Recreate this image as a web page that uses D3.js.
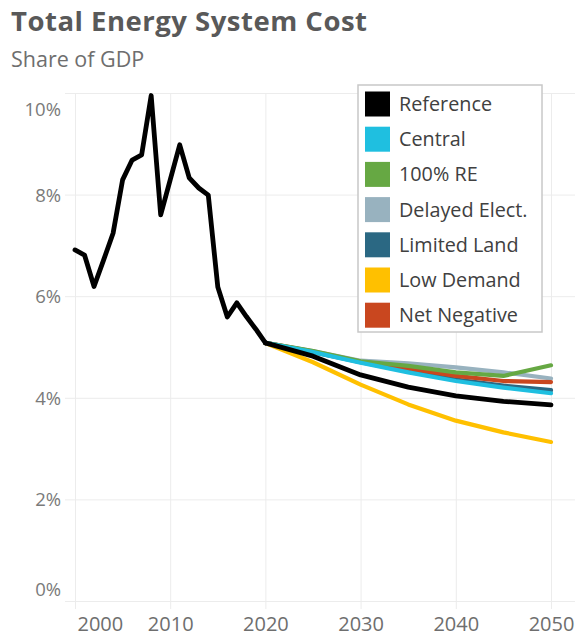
<!DOCTYPE html>
<html>
<head>
<meta charset="utf-8">
<script src="https://cdn.jsdelivr.net/npm/d3@7"></script>
<style>
  html, body { margin: 0; padding: 0; background: #fff; }
  svg { display: block; }
  text { font-family: "Open Sans", "Noto Sans", sans-serif; }
</style>
</head>
<body>
<svg id="chart" width="575" height="637"></svg>
<script>
// ---- data ----
const histYears = [2000,2001,2002,2003,2004,2005,2006,2007,2008,2009,2010,2011,2012,2013,2014,2015,2016,2017,2018,2019,2020];
const histValues = [6.91,6.81,6.19,6.71,7.24,8.29,8.68,8.78,9.95,7.60,8.29,8.98,8.33,8.13,7.99,6.18,5.59,5.87,5.60,5.35,5.08];

const projYears = [2020,2025,2030,2035,2040,2045,2050];
const scenarioNames = ["Reference","Central","100% RE","Delayed Elect.","Limited Land","Low Demand","Net Negative"];
const scenarioColors = ["#000000","#1fbfe0","#66a843","#98b2bf","#2b6883","#ffc000","#c9471f"];
const refProj      = [5.08,4.82,4.45,4.21,4.04,3.93,3.86];
const centralProj  = [5.08,4.90,4.69,4.50,4.33,4.20,4.09];
const re100Proj    = [5.08,4.92,4.72,4.63,4.50,4.43,4.64];
const delayedProj  = [5.08,4.92,4.73,4.68,4.60,4.50,4.38];
const limitedProj  = [5.08,4.90,4.70,4.52,4.36,4.24,4.15];
const lowDemProj   = [5.08,4.70,4.26,3.87,3.55,3.32,3.13];
const netNegProj   = [5.08,4.91,4.71,4.58,4.43,4.33,4.31];

const yTicks = [0,2,4,6,8,10];
const xTicks = [2000,2010,2020,2030,2040,2050];

// ---- layout ----
const svg = d3.select("#chart");
const x = d3.scaleLinear().domain([2000,2050]).range([75,551]);
const y = d3.scaleLinear().domain([0,10]).range([601,93]);
const plotRight = 575, plotTop = 93, plotBottom = 601;

// title
svg.append("text").attr("x",11).attr("y",31)
  .attr("font-size",27.5).attr("font-weight",700).attr("fill","#595959")
  .attr("letter-spacing",0.5)
  .text("Total Energy System Cost");
svg.append("text").attr("x",11).attr("y",67)
  .attr("font-size",21.5).attr("fill","#6e6e6e")
  .text("Share of GDP");

// gridlines via axes
const gy = svg.append("g").attr("transform",`translate(75,0)`)
  .call(d3.axisLeft(y).tickValues(yTicks).tickSize(-(plotRight-75)).tickFormat(d => d + "%"));
gy.select(".domain").remove();
gy.selectAll(".tick line").attr("x1",-10).attr("stroke","#ececec").attr("stroke-width",1);
gy.selectAll(".tick text")
  .attr("x",-14).attr("font-size",18.5).attr("fill","#7a7a7a")
  .attr("font-family","Open Sans, sans-serif")
  .attr("dy", d => d === 10 ? "1.2em" : (d === 0 ? "-0.3em" : "0.35em"));

const gx = svg.append("g").attr("transform",`translate(0,${plotBottom})`)
  .call(d3.axisBottom(x).tickValues(xTicks).tickSize(-(plotBottom-plotTop)).tickFormat(d3.format("d")));
gx.select(".domain").remove();
gx.selectAll(".tick line").attr("y1",8).attr("stroke","#ececec").attr("stroke-width",1);
gx.selectAll(".tick text")
  .attr("y",30).attr("dy",0).attr("font-size",20).attr("fill","#6e6e6e")
  .attr("font-family","Open Sans, sans-serif")
  .attr("text-anchor", d => d === 2000 ? "start" : "middle")
  .attr("x", d => d === 2000 ? 2 : 0);

// lines
const line = d3.line().x(d => x(d[0])).y(d => y(d[1]));
const projData = {
  "Reference": refProj, "Central": centralProj, "100% RE": re100Proj,
  "Delayed Elect.": delayedProj, "Limited Land": limitedProj,
  "Low Demand": lowDemProj, "Net Negative": netNegProj
};
const colorOf = d3.scaleOrdinal().domain(scenarioNames).range(scenarioColors);
const drawOrder = ["Delayed Elect.","Limited Land","Net Negative","100% RE","Central","Low Demand","Reference"];

const lg = svg.append("g").attr("fill","none").attr("stroke-linejoin","round").attr("stroke-linecap","round");
drawOrder.forEach(name => {
  lg.append("path")
    .datum(projYears.map((yr,i) => [yr, projData[name][i]]))
    .attr("d", line)
    .attr("stroke", colorOf(name))
    .attr("stroke-width", name === "Reference" ? 4.8 : 4.2);
});
lg.append("path")
  .datum(histYears.map((yr,i) => [yr, histValues[i]]))
  .attr("d", line)
  .attr("stroke", "#000")
  .attr("stroke-width", 4.8);

// legend
const leg = svg.append("g").attr("transform","translate(358,85)");
leg.append("rect").attr("width",184).attr("height",247)
  .attr("fill","#fff").attr("stroke","#c8c8c8").attr("stroke-width",1.5);
scenarioNames.forEach((name,i) => {
  const row = leg.append("g").attr("transform",`translate(0,${19 + i*35.2})`);
  row.append("rect").attr("x",7).attr("y",-12.5).attr("width",25).attr("height",25)
    .attr("fill", colorOf(name));
  row.append("text").attr("x",41).attr("y",0).attr("dy","0.35em")
    .attr("font-size",19.8).attr("fill","#404040").text(name);
});
</script>
</body>
</html>
